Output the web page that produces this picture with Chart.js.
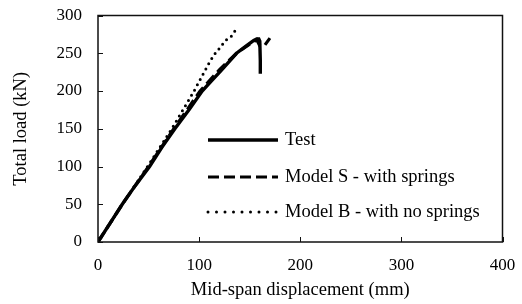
<!DOCTYPE html>
<html>
<head>
<meta charset="utf-8">
<script src="https://cdn.jsdelivr.net/npm/chart.js@4.4.1/dist/chart.umd.min.js"></script>
<style>
  html, body { margin: 0; padding: 0; background: #fff; }
  #wrap { width: 522px; height: 304px; }
</style>
</head>
<body>
<div id="wrap"><canvas id="loadChart" width="522" height="304"></canvas></div>
<script>
// values (mm, kN)
const xTicks = [0, 100, 200, 300, 400];
const yTicks = [0, 50, 100, 150, 200, 250, 300];

const testX = [0, 12, 24, 37, 51, 63, 76, 90, 103, 112, 121, 129, 137, 144, 150, 154, 157, 159, 160, 160.5, 160.5];
const testY = [0, 25, 50, 75, 100, 125, 150, 175, 200, 213, 226, 238, 250, 257, 263, 267, 269, 269, 266, 240, 223];

const modelSX = [0, 24, 50, 75, 101, 120, 137, 150, 157, 160, 164, 170];
const modelSY = [0, 50, 100, 150, 200, 228, 250, 262, 268, 260, 259, 270];

const modelBX = [0, 24, 49, 73, 95, 111, 116, 121, 126, 131, 134.5, 137];
const modelBY = [0, 50, 100, 150, 200, 240, 250, 258, 267, 271, 277, 284];

const seriesNames = ['Test', 'Model S - with springs', 'Model B - with no springs'];

const toPoints = (xs, ys) => xs.map((x, i) => ({ x: x, y: ys[i] }));
const FONT = 'Liberation Serif, Times New Roman, serif';

// box around the plot plus inward tick marks
const frame = {
    id: 'frame',
    afterDraw(chart) {
        const { ctx, chartArea: a, scales } = chart;
        ctx.save();
        ctx.strokeStyle = '#111';
        ctx.lineWidth = 1.5;
        ctx.strokeRect(a.left, a.top, a.right - a.left, a.bottom - a.top);
        ctx.lineWidth = 1;
        ctx.beginPath();
        xTicks.forEach(v => {
            const px = Math.round(scales.x.getPixelForValue(v)) + 0.5;
            ctx.moveTo(px, a.bottom);
            ctx.lineTo(px, a.bottom - 5);
        });
        yTicks.forEach(v => {
            const py = Math.round(scales.y.getPixelForValue(v)) + 0.5;
            ctx.moveTo(a.left, py);
            ctx.lineTo(a.left + 5, py);
        });
        ctx.stroke();
        ctx.restore();
    }
};

// legend drawn inside the plot area
const innerLegend = {
    id: 'innerLegend',
    afterDatasetsDraw(chart) {
        const { ctx } = chart;
        const rows = [140, 177, 212];
        const x0 = 208, x1 = 278;
        ctx.save();
        chart.data.datasets.forEach((ds, i) => {
            const y = rows[i];
            ctx.strokeStyle = '#000';
            ctx.lineWidth = ds.borderWidth;
            ctx.lineCap = ds.borderCapStyle || 'butt';
            ctx.setLineDash(i === 2 ? [0, 8.5] : (ds.borderDash || []));
            ctx.beginPath();
            ctx.moveTo(x0, y);
            ctx.lineTo(x1, y);
            ctx.stroke();
            ctx.setLineDash([]);
            ctx.fillStyle = '#000';
            ctx.font = '18.5px ' + FONT;
            ctx.textBaseline = 'middle';
            ctx.fillText(ds.label, x1 + 7, y);
        });
        ctx.restore();
    }
};

const whiteBg = {
    id: 'whiteBg',
    beforeDraw(chart) {
        const ctx = chart.ctx;
        ctx.save();
        ctx.fillStyle = '#fff';
        ctx.fillRect(0, 0, chart.width, chart.height);
        ctx.restore();
    }
};

new Chart(document.getElementById('loadChart').getContext('2d'), {
    type: 'scatter',
    data: {
        datasets: [{
            label: seriesNames[0],
            data: toPoints(testX, testY),
            showLine: true,
            borderColor: '#000',
            borderWidth: 3.4,
            pointRadius: 0,
            borderCapStyle: 'butt'
        }, {
            label: seriesNames[1],
            data: toPoints(modelSX, modelSY),
            showLine: true,
            borderColor: '#000',
            borderWidth: 3.2,
            borderDash: [11, 5],
            pointRadius: 0
        }, {
            label: seriesNames[2],
            data: toPoints(modelBX, modelBY),
            showLine: true,
            borderColor: '#000',
            borderWidth: 3,
            borderDash: [0, 6],
            borderCapStyle: 'round',
            pointRadius: 0
        }]
    },
    options: {
        responsive: false,
        animation: false,
        layout: { padding: { left: 0, top: 15.5, right: 19.5, bottom: 0 } },
        plugins: {
            legend: { display: false },
            tooltip: { enabled: false }
        },
        scales: {
            x: {
                type: 'linear',
                min: 0,
                max: 400,
                afterBuildTicks: s => { s.ticks = xTicks.map(v => ({ value: v })); },
                afterFit: s => { s.height = 62; s.paddingLeft = 0; s.paddingRight = 0; },
                grid: { display: false, drawTicks: false },
                border: { display: false },
                ticks: { color: '#000', font: { family: FONT, size: 17 }, padding: 13 },
                title: {
                    display: true,
                    text: 'Mid-span displacement (mm)',
                    color: '#000',
                    font: { family: FONT, size: 18.5 },
                    padding: { top: 0, bottom: 3 }
                }
            },
            y: {
                type: 'linear',
                min: 0,
                max: 300,
                afterBuildTicks: s => { s.ticks = yTicks.map(v => ({ value: v })); },
                afterFit: s => { s.width = 98; s.paddingTop = 0; s.paddingBottom = 0; },
                grid: { display: false, drawTicks: false },
                border: { display: false },
                ticks: { color: '#000', font: { family: FONT, size: 17 }, padding: 16 },
                title: {
                    display: true,
                    text: 'Total load (kN)',
                    color: '#000',
                    font: { family: FONT, size: 18.5 },
                    padding: { top: 10, bottom: 0 }
                }
            }
        }
    },
    plugins: [whiteBg, frame, innerLegend]
});
</script>
</body>
</html>
